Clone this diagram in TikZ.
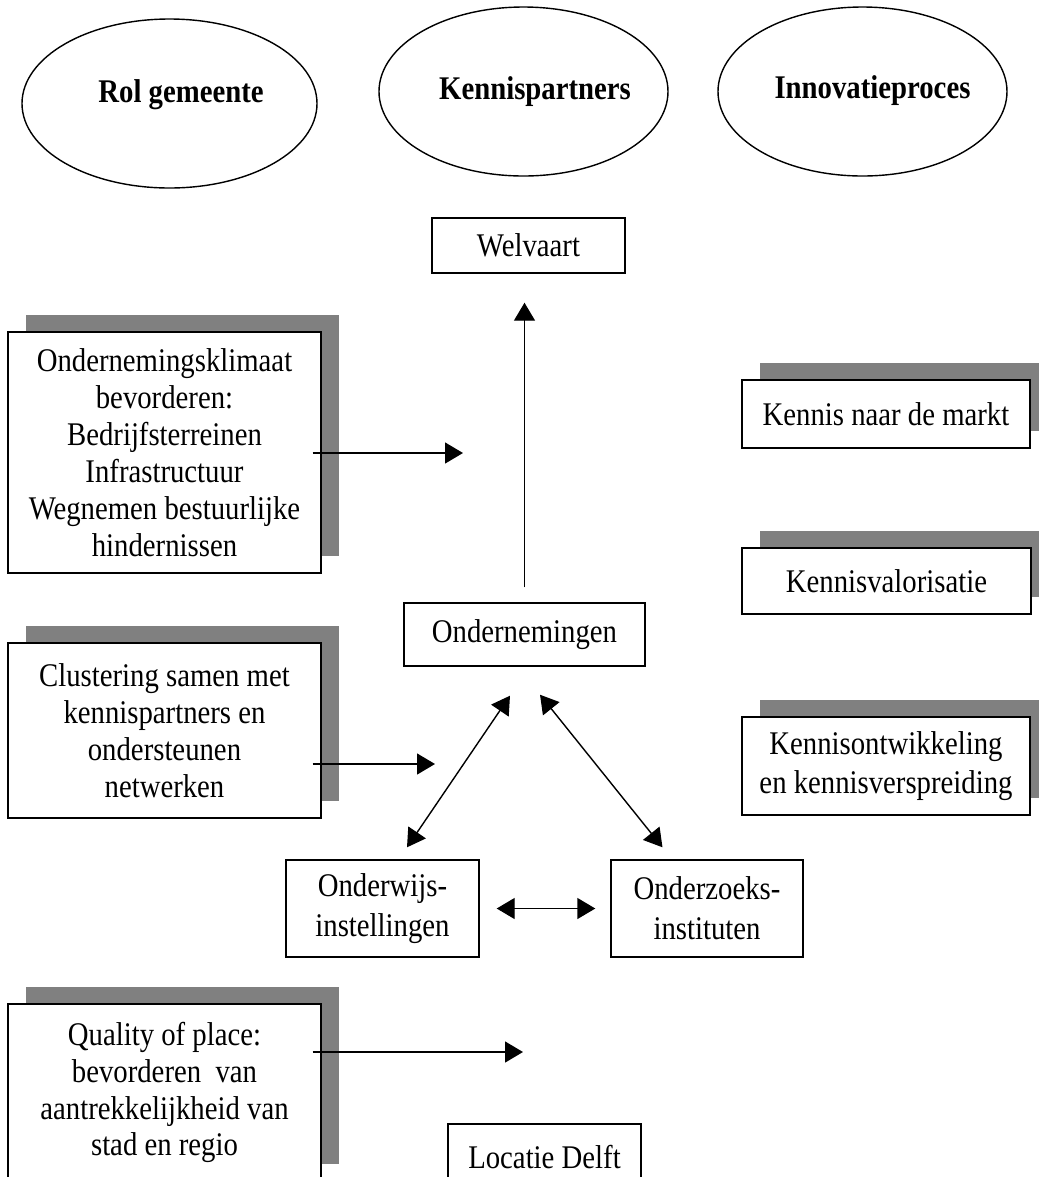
\documentclass[tikz,border=0pt]{standalone}
\usepackage{fontspec}
\setmainfont{Liberation Serif}[FakeStretch=0.87]
\usetikzlibrary{arrows.meta, shapes.geometric, shadows}

\begin{document}
\begin{tikzpicture}[
  every node/.style={font=\fontsize{18.8}{21}\selectfont},
  kop/.style={ellipse, draw, line width=0.8pt, inner sep=0pt},
  koptekst/.style={font=\fontsize{18.8}{21}\selectfont\bfseries},
  blok/.style={draw, line width=0.8pt, fill=white, inner sep=0pt, align=center},
  schaduwblok/.style={blok, drop shadow={shadow xshift=0.35cm, shadow yshift=0.34cm,
    shadow scale=1, fill=black!50, opacity=1}},
  pijl/.style={-{Triangle[length=0.36cm, width=0.42cm]}, line width=0.8pt},
  dubbel/.style={{Triangle[length=0.36cm, width=0.42cm]}-{Triangle[length=0.36cm, width=0.42cm]},
    line width=0.8pt}]
\useasboundingbox (0,0) rectangle (20.78,-23.54);

\node at (3.39,-2.07) (rol) [kop, minimum width=5.9cm, minimum height=3.38cm,
  label={[koptekst, xshift=0.23cm, yshift=0.18cm]center:Rol gemeente}] {};

\node at (10.47,-1.83) (partners) [kop, minimum width=5.78cm, minimum height=3.38cm,
  label={[koptekst, xshift=0.23cm]center:Kennispartners}] {};

\node at (17.25,-1.83) (proces) [kop, minimum width=5.78cm, minimum height=3.38cm,
  label={[koptekst, xshift=0.2cm, yshift=0.02cm]center:Innovatieproces}] {};

\node at (10.57,-4.91) (welv) [blok, minimum width=3.86cm, minimum height=1.1cm]
{Welvaart};

\node at (10.49,-12.69) (ond) [blok, minimum width=4.82cm, minimum height=1.26cm]
{Ondernemingen};

\node at (7.65,-18.17) (onderwijs) [blok, minimum width=3.86cm, minimum height=1.94cm]
{Onderwijs-\\[0.06cm]instellingen};

\node at (14.14,-18.17) (onderzoek) [blok, minimum width=3.84cm, minimum height=1.94cm]
{Onderzoeks-\\[0.06cm]instituten};

\node at (10.89,-23.14) (delft) [blok, minimum width=3.86cm, minimum height=1.32cm]
{Locatie Delft};

\node at (3.29,-9.05) (klimaat) [schaduwblok, minimum width=6.26cm, minimum height=4.82cm]
{Ondernemingsklimaat\\bevorderen:\\Bedrijfsterreinen\\Infrastructuur\\Wegnemen bestuurlijke\\hindernissen};

\node at (3.29,-14.61) (cluster) [schaduwblok, minimum width=6.26cm, minimum height=3.5cm]
{Clustering samen met\\kennispartners en\\ondersteunen\\netwerken};

\node at (3.29,-21.85) (quality) [schaduwblok, minimum width=6.26cm, minimum height=3.54cm]
{Quality of place:\\bevorderen\ \ van\\aantrekkelijkheid van\\stad en regio};

\node at (17.72,-8.28) (markt) [schaduwblok, minimum width=5.76cm, minimum height=1.36cm]
{Kennis naar de markt};

\node at (17.73,-11.62) (valor) [schaduwblok, minimum width=5.78cm, minimum height=1.32cm]
{Kennisvalorisatie};

\node at (17.72,-15.32) (ontw) [schaduwblok, minimum width=5.76cm, minimum height=1.96cm]
{Kennisontwikkeling\\[0.04cm]en kennisverspreiding};

\coordinate (klimaatpijl) at (9.26,-9.06);
\coordinate (clusterpijl) at (8.70,-15.28);
\coordinate (qualitypijl) at (10.46,-21.04);

\draw[pijl, shorten <=0.3cm, shorten >=0.58cm] (ond.north) -- (ond.north |- welv.south);
\draw[pijl, shorten <=-0.18cm] (klimaat.east |- klimaatpijl) -- (klimaatpijl);
\draw[pijl, shorten <=-0.18cm] (cluster.east |- clusterpijl) -- (clusterpijl);
\draw[pijl, shorten <=-0.18cm] (quality.east |- qualitypijl) -- (qualitypijl);
\draw[dubbel] ([shift={(-0.29,-0.58)}]ond.south) -- ([shift={(0.49,0.24)}]onderwijs.north);
\draw[dubbel] ([shift={(0.31,-0.56)}]ond.south) -- ([shift={(-0.89,0.24)}]onderzoek.north);
\draw[dubbel, shorten <=0.34cm, shorten >=0.3cm] (onderwijs) -- (onderzoek);
\end{tikzpicture}
\end{document}
